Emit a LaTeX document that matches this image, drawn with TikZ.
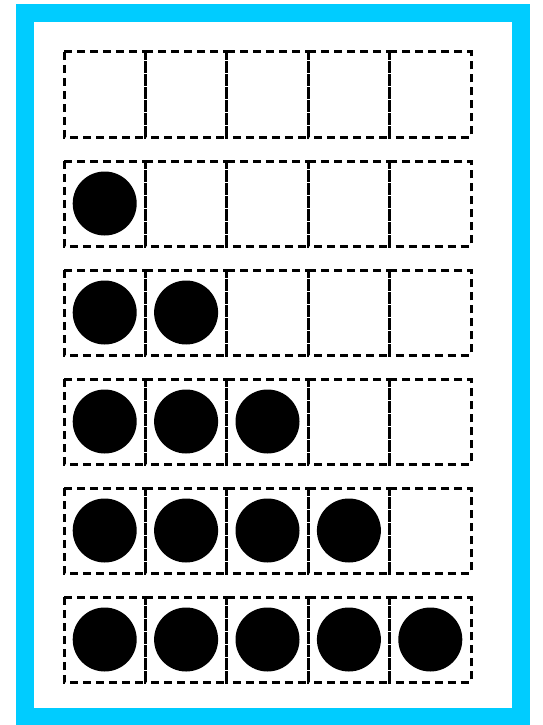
\documentclass[tikz,border=0pt]{standalone}
\definecolor{framecyan}{RGB}{0,204,255}
\tikzset{
  cellbox/.style={draw=black, line width=3pt, dash pattern=on 8pt off 5pt},
  counter/.style={fill=black}
}
\begin{document}
\begin{tikzpicture}[x=1pt, y=-1pt]
\useasboundingbox (0,0) rectangle (542,725);
% Frame
\fill[white] (0,0) rectangle (542,725);
\draw[framecyan, line width=18pt] (25,13) rectangle (521,717);

% Cells
\foreach \r in {0,...,5}
  \foreach \c in {0,...,4}
    \draw[cellbox] ({64+81.4*\c},{52+109*\r}) rectangle ++(81.4,85);

% Counters - one more in each row
\foreach \r in {1,...,5}
  \foreach \c in {1,...,\r}
    \fill[counter] ({64+81.4*(\c-1)+40.7},{52+109*\r+42.5}) circle (32);

\end{tikzpicture}
\end{document}
